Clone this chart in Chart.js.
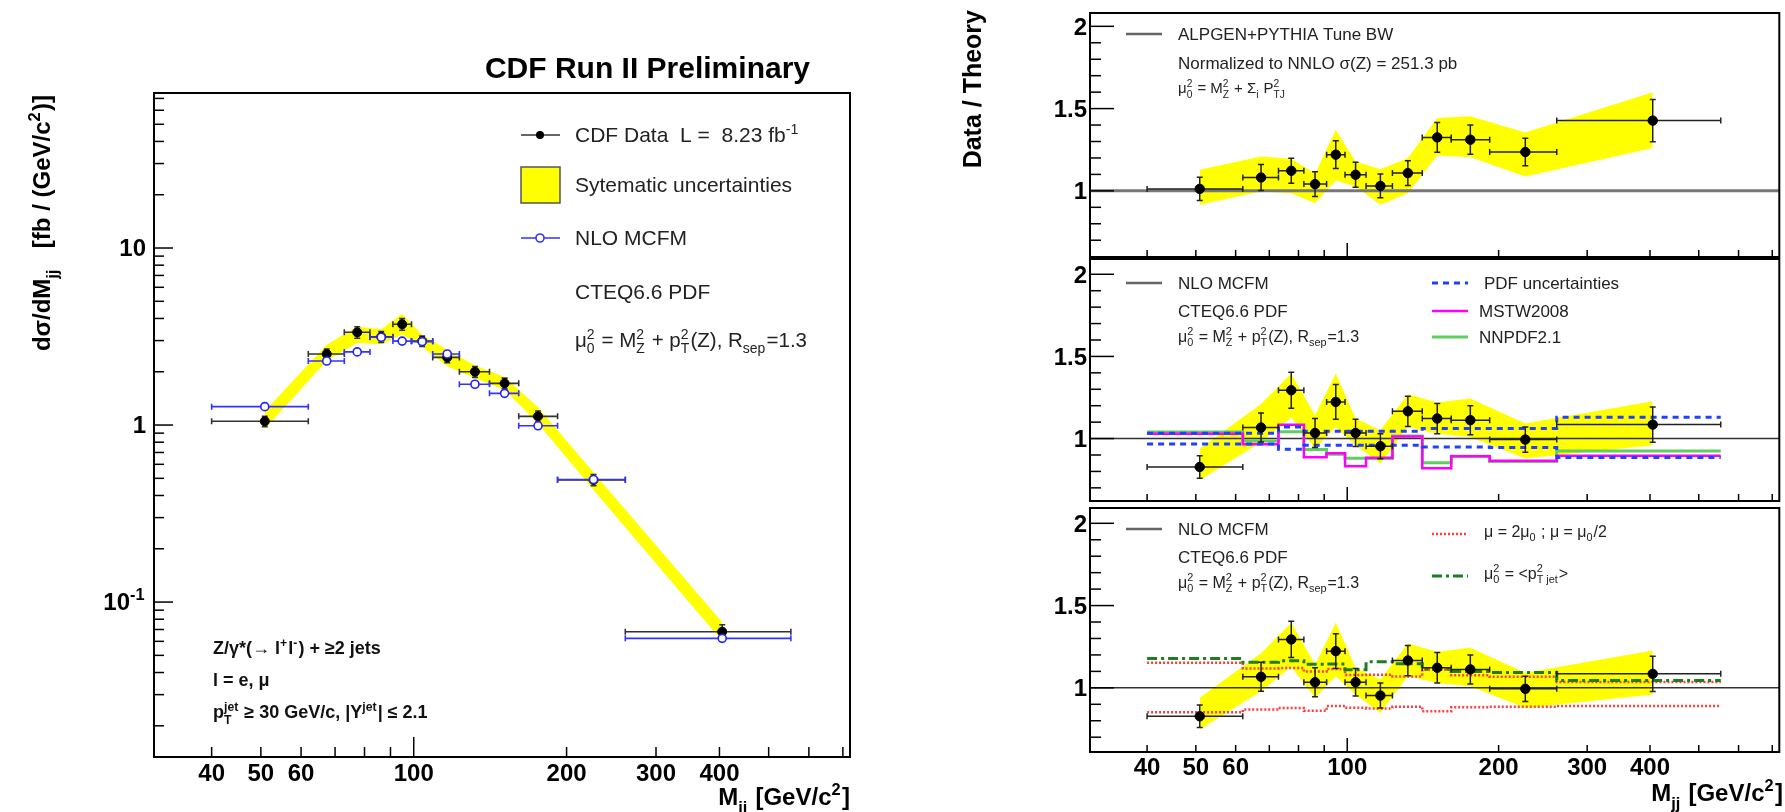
<!DOCTYPE html>
<html><head><meta charset="utf-8">
<script src="https://cdn.jsdelivr.net/npm/chart.js@4.4.1/dist/chart.umd.min.js"></script>
<style>
html,body{margin:0;padding:0;background:#fff;width:1785px;height:812px;overflow:hidden}
canvas{position:absolute;left:0;top:0}
</style></head><body>
<canvas id="cL" width="1785" height="812" style="width:1785px;height:812px"></canvas>
<canvas id="cT" width="1785" height="812" style="width:1785px;height:812px"></canvas>
<canvas id="cM" width="1785" height="812" style="width:1785px;height:812px"></canvas>
<canvas id="cB" width="1785" height="812" style="width:1785px;height:812px"></canvas>
<script>
// ---------------- data ----------------
const binEdges   = [40, 62, 73, 82, 91, 99, 109, 123, 141, 161, 192, 261, 553];
const mjjPoints  = [50.9, 67.4, 77.4, 86.3, 94.9, 103.9, 116.4, 132, 151, 175.7, 226, 405];

// left panel: dsigma/dMjj [fb/(GeV/c^2)]
const cdfXsec    = [1.05, 2.52, 3.34, 3.15, 3.71, 2.98, 2.41, 2.00, 1.72, 1.12, 0.49, 0.068];
const cdfXsecErr = [0.07, 0.17, 0.25, 0.22, 0.28, 0.20, 0.16, 0.14, 0.12, 0.08, 0.035, 0.0065];
const cdfSystLo  = [0.95, 2.31, 2.91, 2.86, 3.25, 2.77, 2.15, 1.84, 1.58, 1.02, 0.43, 0.060];
const cdfSystHi  = [1.20, 2.84, 3.60, 3.48, 4.24, 3.24, 2.66, 2.17, 1.87, 1.26, 0.54, 0.077];
const nloXsec    = [1.27, 2.30, 2.59, 3.13, 2.98, 2.96, 2.52, 1.70, 1.51, 0.99, 0.492, 0.0624];

// top ratio panel: data / ALPGEN+PYTHIA
const alpRatio   = [1.012, 1.081, 1.122, 1.041, 1.220, 1.098, 1.030, 1.108, 1.325, 1.311, 1.236, 1.427];
const alpErr     = [0.070, 0.079, 0.076, 0.075, 0.084, 0.076, 0.072, 0.075, 0.090, 0.089, 0.083, 0.128];
const alpSystLo  = [0.915, 0.996, 0.986, 0.925, 1.063, 1.026, 0.915, 0.986, 1.215, 1.205, 1.087, 1.260];
const alpSystHi  = [1.128, 1.209, 1.195, 1.104, 1.372, 1.179, 1.132, 1.199, 1.443, 1.453, 1.355, 1.600];

// middle / bottom ratio panels: data / NLO MCFM
const mcfmRatio  = [0.827, 1.067, 1.294, 1.034, 1.223, 1.034, 0.953, 1.166, 1.122, 1.112, 0.994, 1.085];
const mcfmErr    = [0.068, 0.088, 0.110, 0.088, 0.106, 0.083, 0.076, 0.092, 0.092, 0.088, 0.077, 0.107];
const mcfmSystLo = [0.746, 0.979, 1.128, 0.939, 1.071, 0.959, 0.848, 1.071, 1.030, 1.010, 0.878, 0.959];
const mcfmSystHi = [0.939, 1.210, 1.396, 1.142, 1.396, 1.122, 1.050, 1.270, 1.220, 1.244, 1.091, 1.227];

// middle panel step lines (per bin)
const pdfUp      = [1.033, 1.033, 1.070, 1.044, 1.044, 1.044, 1.044, 1.044, 1.062, 1.062, 1.062, 1.130];
const pdfDown    = [0.967, 0.967, 0.935, 0.960, 0.960, 0.960, 0.960, 0.960, 0.948, 0.948, 0.945, 0.885];
const mstw2008   = [1.030, 0.965, 1.084, 0.887, 0.910, 0.831, 0.884, 1.012, 0.820, 0.893, 0.865, 0.896];
const nnpdf21    = [1.040, 0.985, 1.042, 0.933, 0.905, 0.880, 0.878, 1.015, 0.853, 0.893, 0.860, 0.924];

// bottom panel step lines (per bin)
const scaleUp    = [1.152, 1.118, 1.120, 1.100, 1.115, 1.078, 1.080, 1.069, 1.112, 1.076, 1.067, 1.035];
const scaleDown  = [0.851, 0.868, 0.878, 0.860, 0.889, 0.879, 0.875, 0.885, 0.857, 0.882, 0.885, 0.889];
const ptJetScale = [1.178, 1.156, 1.164, 1.143, 1.145, 1.110, 1.158, 1.146, 1.113, 1.100, 1.093, 1.045];

// axes
const xMin = 30.8, xMax = 723;
const xTickValues = [40, 50, 60, 100, 200, 300, 400];
const xTickLabels = ['40', '50', '60', '100', '200', '300', '400'];
const leftYMin = 0.01333, leftYMax = 75.1;
const leftYTickValues = [0.1, 1, 10];
const leftYTickLabels = [['10', {sup: '-1'}], ['1'], ['10']];
const ratioYTickValues = [1, 1.5, 2];
const ratioYTickLabels = ['1', '1.5', '2'];

// ---------------- helpers ----------------
const FAM = '"Liberation Sans", Arial, Helvetica, sans-serif';
const fnt = (s, b) => (b ? 'bold ' : '') + s + 'px ' + FAM;

function richWidth(ctx, parts, size, bold) {
  let w = 0;
  for (const p of parts) {
    if (typeof p === 'string') { ctx.font = fnt(size, bold); w += ctx.measureText(p).width; }
    else {
      ctx.font = fnt(size * 0.68, bold);
      const a = p.sup ? ctx.measureText(p.sup).width : 0;
      const b = p.sub ? ctx.measureText(p.sub).width : 0;
      w += Math.max(a, b) + size * 0.06;
    }
  }
  return w;
}
function drawRich(ctx, parts, x, y, size, o = {}) {
  if (typeof parts === 'string') parts = [parts];
  const bold = !!o.bold, align = o.align || 'left';
  const w = richWidth(ctx, parts, size, bold);
  let cx = align === 'left' ? x : align === 'right' ? x - w : x - w / 2;
  const base = y + size * 0.35;
  ctx.textAlign = 'left'; ctx.textBaseline = 'alphabetic';
  ctx.fillStyle = o.color || '#111';
  for (const p of parts) {
    if (typeof p === 'string') {
      ctx.font = fnt(size, bold); ctx.fillText(p, cx, base); cx += ctx.measureText(p).width;
    } else {
      ctx.font = fnt(size * 0.68, bold);
      let mw = 0;
      if (p.sup) { ctx.fillText(p.sup, cx, base - size * 0.42); mw = Math.max(mw, ctx.measureText(p.sup).width); }
      if (p.sub) { ctx.fillText(p.sub, cx, base + size * 0.30); mw = Math.max(mw, ctx.measureText(p.sub).width); }
      cx += mw + size * 0.06;
    }
  }
}
function seg(ctx, x1, y1, x2, y2) { ctx.beginPath(); ctx.moveTo(x1, y1); ctx.lineTo(x2, y2); ctx.stroke(); }

function pts(xs, ys) { return xs.map((x, i) => ({x, y: ys[i]})); }
function stepPts(vals) {
  const p = vals.map((v, i) => ({x: binEdges[i], y: v}));
  p.push({x: binEdges[binEdges.length - 1], y: vals[vals.length - 1]});
  return p;
}

function drawErrBars(chart, eb) {
  const ctx = chart.ctx, xs = chart.scales.x, ys = chart.scales.y, a = chart.chartArea;
  ctx.save();
  ctx.beginPath(); ctx.rect(a.left, a.top, a.right - a.left, a.bottom - a.top); ctx.clip();
  ctx.strokeStyle = eb.color; ctx.lineWidth = eb.width || 1.5;
  const cap = eb.cap || 3;
  for (let i = 0; i < eb.x.length; i++) {
    const px = xs.getPixelForValue(eb.x[i]), py = ys.getPixelForValue(eb.y[i]);
    const xl = xs.getPixelForValue(eb.edges[i]), xr = xs.getPixelForValue(eb.edges[i + 1]);
    ctx.beginPath();
    ctx.moveTo(xl, py); ctx.lineTo(xr, py);
    ctx.moveTo(xl, py - cap); ctx.lineTo(xl, py + cap);
    ctx.moveTo(xr, py - cap); ctx.lineTo(xr, py + cap);
    if (eb.err) {
      const yt = ys.getPixelForValue(eb.y[i] + eb.err[i]), yb = ys.getPixelForValue(eb.y[i] - eb.err[i]);
      ctx.moveTo(px, yt); ctx.lineTo(px, yb);
      ctx.moveTo(px - cap, yt); ctx.lineTo(px + cap, yt);
      ctx.moveTo(px - cap, yb); ctx.lineTo(px + cap, yb);
    }
    ctx.stroke();
  }
  ctx.restore();
}

function drawAxes(chart, c) {
  const ctx = chart.ctx, a = chart.chartArea, xs = chart.scales.x, ys = chart.scales.y;
  ctx.save();
  ctx.strokeStyle = '#000'; ctx.lineWidth = 1.5;
  const xMinor = [40, 50, 60, 70, 80, 90, 200, 300, 400, 500, 600, 700];
  for (const v of xMinor) { const p = xs.getPixelForValue(v); seg(ctx, p, a.bottom, p, a.bottom - c.xMinLen); }
  { const p = xs.getPixelForValue(100); seg(ctx, p, a.bottom, p, a.bottom - c.xMajLen); }
  for (const v of c.yMinor) { const p = ys.getPixelForValue(v); if (p > a.top + 1 && p < a.bottom - 1) seg(ctx, a.left, p, a.left + c.yMinLen, p); }
  for (const v of c.yMajor) { const p = ys.getPixelForValue(v); seg(ctx, a.left, p, a.left + c.yMajLen, p); }
  ctx.lineWidth = 2;
  ctx.strokeRect(a.left, a.top, a.right - a.left, a.bottom - a.top);
  c.yMajor.forEach((v, i) => {
    const p = ys.getPixelForValue(v);
    let lab = c.yLabels[i]; if (typeof lab === 'string') lab = [lab];
    drawRich(ctx, lab, c.yLabelX, p, 24, {bold: true, align: 'right', color: '#000'});
  });
  if (c.xLabelY) {
    xTickValues.forEach((v, i) => {
      drawRich(ctx, [xTickLabels[i]], xs.getPixelForValue(v), c.xLabelY, 24, {bold: true, align: 'center', color: '#000'});
    });
  }
  ctx.restore();
}

function makeChart(id, pad, yScale, datasets, errs, axesCfg, extra) {
  return new Chart(document.getElementById(id), {
    type: 'line',
    data: {datasets},
    options: {
      responsive: false, animation: false, devicePixelRatio: 1, events: [],
      layout: {padding: pad},
      plugins: {legend: {display: false}, tooltip: {enabled: false}},
      elements: {line: {tension: 0}},
      scales: {
        x: {type: 'logarithmic', min: xMin, max: xMax, display: false},
        y: Object.assign({display: false}, yScale)
      }
    },
    plugins: [{
      id: 'deco_' + id,
      beforeDatasetDraw(chart, args) {
        for (const e of errs) if (e.ds === args.index) drawErrBars(chart, e);
      },
      afterDraw(chart) { drawAxes(chart, axesCfg); extra(chart.ctx, chart); }
    }]
  });
}

function bandSets(lo, hi) {
  return [
    {data: pts(mjjPoints, hi), showLine: true, fill: '+1', backgroundColor: '#ffff00', borderColor: 'rgba(0,0,0,0)', borderWidth: 1, pointRadius: 0, order: 10},
    {data: pts(mjjPoints, lo), showLine: true, fill: false, borderColor: 'rgba(0,0,0,0)', borderWidth: 1, pointRadius: 0, order: 10}
  ];
}
function markerSet(ys, r, bg, border, bw, order) {
  return {data: pts(mjjPoints, ys), showLine: false, pointRadius: r, pointBackgroundColor: bg, pointBorderColor: border, pointBorderWidth: bw, order};
}
function stepSet(vals, color, width, dash, order) {
  return {data: stepPts(vals), showLine: true, stepped: true, fill: false, borderColor: color, borderWidth: width, borderDash: dash || [], pointRadius: 0, order};
}
function refSet(color, width) {
  return {data: [{x: xMin, y: 1}, {x: xMax, y: 1}], showLine: true, fill: false, borderColor: color, borderWidth: width, pointRadius: 0, order: 6};
}

// ---------------- left panel ----------------
const leftMinor = [];
for (const d of [0.01, 0.1, 1, 10]) for (let k = 2; k <= 9; k++) leftMinor.push(k * d);

makeChart('cL', {left: 154, top: 93, right: 1785 - 850, bottom: 812 - 757},
  {type: 'logarithmic', min: leftYMin, max: leftYMax},
  [
    markerSet(cdfXsec, 4.5, '#000', '#000', 1, 1),
    markerSet(nloXsec, 4, '#fff', '#2222ff', 1.6, 0),
    ...bandSets(cdfSystLo, cdfSystHi)
  ],
  [
    {ds: 0, x: mjjPoints, y: cdfXsec, err: cdfXsecErr, edges: binEdges, color: '#333', width: 1.6, cap: 3},
    {ds: 1, x: mjjPoints, y: nloXsec, edges: binEdges, color: '#3333ff', width: 1.6, cap: 3}
  ],
  {xMinLen: 10, xMajLen: 20, yMinLen: 10, yMajLen: 19, yMinor: leftMinor, yMajor: leftYTickValues, yLabels: leftYTickLabels, yLabelX: 146, xLabelY: 773},
  (ctx) => {
    ctx.save();
    drawRich(ctx, ['CDF Run II Preliminary'], 810, 67, 30, {bold: true, align: 'right', color: '#000'});
    ctx.strokeStyle = '#333'; ctx.lineWidth = 1.6; seg(ctx, 521, 135, 560, 135);
    ctx.fillStyle = '#000'; ctx.beginPath(); ctx.arc(540, 135, 4, 0, Math.PI * 2); ctx.fill();
    drawRich(ctx, ['CDF Data  L =  8.23 fb', {sup: '-1'}], 575, 135, 21, {color: '#222'});
    ctx.fillStyle = '#ffff00'; ctx.fillRect(521, 167, 39, 36);
    ctx.strokeStyle = '#555'; ctx.lineWidth = 1.5; ctx.strokeRect(521, 167, 39, 36);
    drawRich(ctx, ['Sytematic uncertainties'], 575, 185, 21, {color: '#222'});
    ctx.strokeStyle = '#3333ff'; ctx.lineWidth = 1.6; seg(ctx, 521, 238, 560, 238);
    ctx.fillStyle = '#fff'; ctx.beginPath(); ctx.arc(540, 238, 4, 0, Math.PI * 2); ctx.fill(); ctx.stroke();
    drawRich(ctx, ['NLO MCFM'], 575, 238, 21, {color: '#222'});
    drawRich(ctx, ['CTEQ6.6 PDF'], 575, 292, 21, {color: '#222'});
    drawRich(ctx, ['\u03bc', {sup: '2', sub: '0'}, ' = M', {sup: '2', sub: 'Z'}, ' + p', {sup: '2', sub: 'T'}, '(Z), R', {sub: 'sep'}, '=1.3'], 575, 340, 20.5, {color: '#222'});
    drawRich(ctx, ['Z/\u03b3*(\u2192 l', {sup: '+'}, 'l', {sup: '-'}, ') + \u22652 jets'], 213, 648, 18, {bold: true, color: '#111'});
    drawRich(ctx, ['l = e, \u03bc'], 213, 680, 18, {bold: true, color: '#111'});
    drawRich(ctx, ['p', {sup: 'jet', sub: 'T'}, ' \u2265 30 GeV/c, |Y', {sup: 'jet'}, '| \u2264 2.1'], 213, 712, 18, {bold: true, color: '#111'});
    drawRich(ctx, ['M', {sub: 'jj'}, ' [GeV/c', {sup: '2'}, ']'], 850, 797, 24, {bold: true, align: 'right', color: '#000'});
    ctx.translate(42, 95); ctx.rotate(-Math.PI / 2);
    drawRich(ctx, ['d\u03c3/dM', {sub: 'jj'}, '   [fb / (GeV/c', {sup: '2'}, ')]'], 0, 0, 24, {bold: true, align: 'right', color: '#000'});
    ctx.restore();
  });

// ---------------- ratio panels ----------------
const ratioMinor = [0.7, 0.8, 0.9, 1.1, 1.2, 1.3, 1.4, 1.6, 1.7, 1.8, 1.9];
function ratioAxes(xLabelY) {
  return {xMinLen: 7, xMajLen: 14, yMinLen: 11, yMajLen: 24, yMinor: ratioMinor, yMajor: ratioYTickValues, yLabels: ratioYTickLabels, yLabelX: 1087, xLabelY};
}
const mu0 = ['\u03bc', {sup: '2', sub: '0'}];

makeChart('cT', {left: 1090, top: 13, right: 2, bottom: 812 - 257},
  {type: 'linear', min: 0.598, max: 2.081},
  [
    markerSet(alpRatio, 4.7, '#000', '#000', 1, 0),
    refSet('#777', 3),
    ...bandSets(alpSystLo, alpSystHi)
  ],
  [{ds: 0, x: mjjPoints, y: alpRatio, err: alpErr, edges: binEdges, color: '#222', width: 1.5, cap: 3}],
  ratioAxes(null),
  (ctx) => {
    ctx.save();
    ctx.strokeStyle = '#666'; ctx.lineWidth = 2.5; seg(ctx, 1126, 34, 1162, 34);
    drawRich(ctx, ['ALPGEN+PYTHIA Tune BW'], 1178, 34, 17, {color: '#222'});
    drawRich(ctx, ['Normalized to NNLO \u03c3(Z) = 251.3 pb'], 1178, 63, 17, {color: '#222'});
    drawRich(ctx, [...mu0, ' = M', {sup: '2', sub: 'Z'}, ' + \u03a3', {sub: 'i'}, ' P', {sup: '2', sub: 'TJ'}], 1178, 88, 15, {color: '#222'});
    ctx.translate(972, 10); ctx.rotate(-Math.PI / 2);
    drawRich(ctx, ['Data / Theory'], 0, 0, 25, {bold: true, align: 'right', color: '#000'});
    ctx.restore();
  });

makeChart('cM', {left: 1090, top: 259, right: 2, bottom: 812 - 501},
  {type: 'linear', min: 0.62, max: 2.093},
  [
    markerSet(mcfmRatio, 4.7, '#000', '#000', 1, 0),
    refSet('#333', 1.5),
    stepSet(pdfUp, '#2040ff', 3, [6, 5], 2),
    stepSet(pdfDown, '#2040ff', 3, [6, 5], 2),
    stepSet(mstw2008, '#ff00ff', 2.5, [], 4),
    stepSet(nnpdf21, '#5fcf5f', 3, [], 5),
    ...bandSets(mcfmSystLo, mcfmSystHi)
  ],
  [{ds: 0, x: mjjPoints, y: mcfmRatio, err: mcfmErr, edges: binEdges, color: '#222', width: 1.5, cap: 3}],
  ratioAxes(null),
  (ctx) => {
    ctx.save();
    ctx.strokeStyle = '#666'; ctx.lineWidth = 2.5; seg(ctx, 1126, 283, 1162, 283);
    drawRich(ctx, ['NLO MCFM'], 1178, 283, 17, {color: '#222'});
    drawRich(ctx, ['CTEQ6.6 PDF'], 1178, 311, 17, {color: '#222'});
    drawRich(ctx, [...mu0, ' = M', {sup: '2', sub: 'Z'}, ' + p', {sup: '2', sub: 'T'}, '(Z), R', {sub: 'sep'}, '=1.3'], 1178, 336, 16, {color: '#222'});
    ctx.lineWidth = 3; ctx.strokeStyle = '#2040ff'; ctx.setLineDash([6, 5]); seg(ctx, 1432, 283, 1468, 283); ctx.setLineDash([]);
    drawRich(ctx, ['PDF uncertainties'], 1484, 283, 17, {color: '#222'});
    ctx.lineWidth = 2.5; ctx.strokeStyle = '#ff00ff'; seg(ctx, 1432, 311, 1468, 311);
    drawRich(ctx, ['MSTW2008'], 1479, 311, 17, {color: '#222'});
    ctx.lineWidth = 3; ctx.strokeStyle = '#5fcf5f'; seg(ctx, 1432, 337, 1468, 337);
    drawRich(ctx, ['NNPDF2.1'], 1479, 337, 17, {color: '#222'});
    ctx.restore();
  });

makeChart('cB', {left: 1090, top: 508, right: 2, bottom: 812 - 752},
  {type: 'linear', min: 0.61, max: 2.093},
  [
    markerSet(mcfmRatio, 4.7, '#000', '#000', 1, 0),
    refSet('#333', 1.5),
    stepSet(scaleUp, '#ff3b3b', 2.5, [2, 2], 3),
    stepSet(scaleDown, '#ff3b3b', 2.5, [2, 2], 3),
    stepSet(ptJetScale, '#1e7d1e', 3, [10, 4, 3, 4], 2),
    ...bandSets(mcfmSystLo, mcfmSystHi)
  ],
  [{ds: 0, x: mjjPoints, y: mcfmRatio, err: mcfmErr, edges: binEdges, color: '#222', width: 1.5, cap: 3}],
  ratioAxes(767),
  (ctx) => {
    ctx.save();
    ctx.strokeStyle = '#666'; ctx.lineWidth = 2.5; seg(ctx, 1126, 529, 1162, 529);
    drawRich(ctx, ['NLO MCFM'], 1178, 529, 17, {color: '#222'});
    drawRich(ctx, ['CTEQ6.6 PDF'], 1178, 557, 17, {color: '#222'});
    drawRich(ctx, [...mu0, ' = M', {sup: '2', sub: 'Z'}, ' + p', {sup: '2', sub: 'T'}, '(Z), R', {sub: 'sep'}, '=1.3'], 1178, 582, 16, {color: '#222'});
    ctx.lineWidth = 2.5; ctx.strokeStyle = '#ff3b3b'; ctx.setLineDash([2, 2]); seg(ctx, 1432, 534, 1468, 534);
    ctx.lineWidth = 3; ctx.strokeStyle = '#1e7d1e'; ctx.setLineDash([10, 4, 3, 4]); seg(ctx, 1432, 576, 1468, 576); ctx.setLineDash([]);
    drawRich(ctx, ['\u03bc = 2\u03bc', {sub: '0'}, ' ; \u03bc = \u03bc', {sub: '0'}, '/2'], 1484, 531, 16, {color: '#222'});
    drawRich(ctx, [...mu0, ' = <p', {sup: '2', sub: 'T jet'}, '>'], 1484, 573, 16, {color: '#222'});
    drawRich(ctx, ['M', {sub: 'jj'}, ' [GeV/c', {sup: '2'}, ']'], 1783, 793, 24, {bold: true, align: 'right', color: '#000'});
    ctx.restore();
  });
</script>
</body></html>
